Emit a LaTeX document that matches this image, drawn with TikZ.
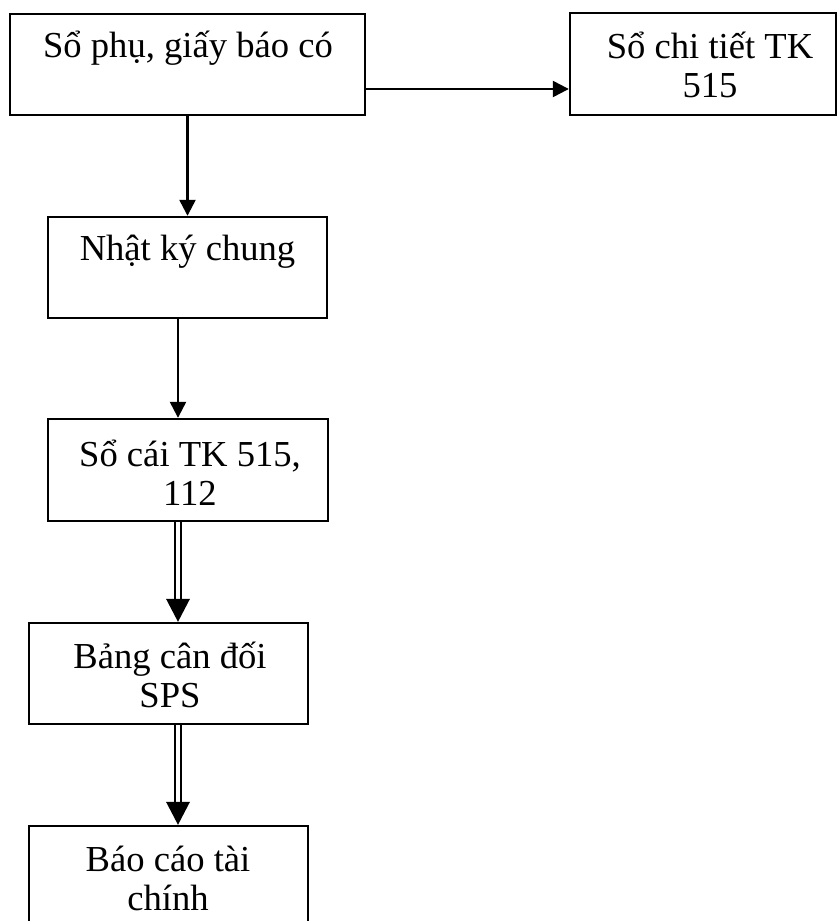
\documentclass[tikz,border=0pt]{standalone}
\usepackage{fontspec}
\setmainfont{Liberation Serif}
\usetikzlibrary{arrows.meta,decorations.markings}

\begin{document}
\begin{tikzpicture}[x=1pt,y=-1pt,
  box/.style={draw, line width=2.4pt, rectangle, inner sep=0pt},
  % multi-line texts sit on the baseline of their last line
  txt/.style={anchor=base, align=center, inner sep=0pt,
    font=\fontsize{36.6}{39}\selectfont},
  arr/.style={line width=2.4pt, -{Triangle[length=16pt,width=16pt]}},
  dblarr/.style={double, double distance=4.5pt, line width=2pt,
    shorten >=18pt,
    decoration={markings,
      mark=at position 1 with {\fill (0pt,0pt) -- (-23pt,12pt) -- (-23pt,-12pt) -- cycle;}},
    postaction={decorate}}
]
\useasboundingbox (0,0) rectangle (838,921);
\clip (0,0) rectangle (838,921);
\fill[white] (0,0) rectangle (838,921);

% boxes
\node[box, minimum width=355pt, minimum height=101pt] (s1)   at (187.5,64.5) {};
\node[box, minimum width=266pt, minimum height=102pt] (s2)   at (703,64)     {};
\node[box, minimum width=279pt, minimum height=101pt] (nk)   at (187.5,267.5) {};
\node[box, minimum width=280pt, minimum height=102pt] (sc)   at (188,470)    {};
\node[box, minimum width=279pt, minimum height=101pt] (bcd)  at (168.5,673.5) {};
\node[box, minimum width=279pt, minimum height=101pt] (bctc) at (168.5,876.5) {};

% box texts
\node[txt] (t1) at (188,57)  {Sổ phụ, giấy báo có};
\node[txt] (t2) at (710,97)  {Sổ chi tiết TK\\515};
\node[txt] (t3) at (187.5,260) {Nhật ký chung};
\node[txt] (t4) at (190,505) {Sổ cái TK 515,\\112};
\node[txt] (t5) at (170,707) {Bảng cân đối\\SPS};
\node[txt] (t6) at (168,910) {Báo cáo tài\\chính};

% connectors
\coordinate (hrow) at (0,89);
\coordinate (spine) at (178,0);
\draw[arr] (s1.east |- hrow) -- (s2.west |- hrow);
\draw[arr] (s1.south) -- (nk.north -| s1.south);
\draw[arr] (nk.south -| spine) -- (sc.north -| spine);
\draw[dblarr] (sc.south -| spine) -- (bcd.north -| spine);
\draw[dblarr] (bcd.south -| spine) -- (bctc.north -| spine);
\end{tikzpicture}
\end{document}
